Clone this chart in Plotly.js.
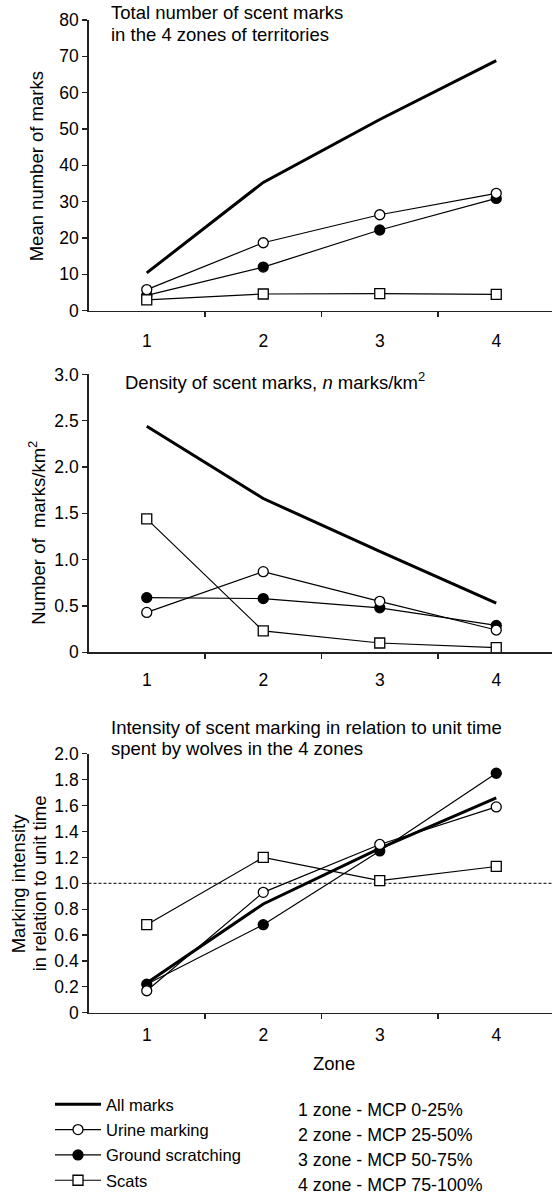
<!DOCTYPE html>
<html>
<head>
<meta charset="utf-8">
<script src="https://cdn.plot.ly/plotly-3.0.1.min.js"></script>
<style>html,body{margin:0;padding:0;background:#fff;}#chart{width:552px;height:1198px;}</style>
</head>
<body>
<div id="chart"></div>
<script>
// ---- data ----
const zones = [1, 2, 3, 4];
const seriesNames = ["All marks", "Urine marking", "Ground scratching", "Scats"];

const allTotal = [10.4, 35.3, 52.6, 68.8];
const urineTotal = [5.8, 18.7, 26.4, 32.3];
const groundTotal = [4.2, 12.0, 22.2, 30.9];
const scatsTotal = [3.0, 4.6, 4.7, 4.5];

const allDensity = [2.44, 1.66, 1.09, 0.53];
const urineDensity = [0.43, 0.87, 0.55, 0.24];
const groundDensity = [0.59, 0.58, 0.48, 0.29];
const scatsDensity = [1.44, 0.23, 0.10, 0.05];

const allIntensity = [0.23, 0.84, 1.27, 1.66];
const urineIntensity = [0.17, 0.93, 1.30, 1.59];
const groundIntensity = [0.22, 0.68, 1.25, 1.85];
const scatsIntensity = [0.68, 1.20, 1.02, 1.13];

const y1Ticks = [0, 10, 20, 30, 40, 50, 60, 70, 80];
const y2Ticks = [0, 0.5, 1.0, 1.5, 2.0, 2.5, 3.0];
const y2Labels = ["0", "0.5", "1.0", "1.5", "2.0", "2.5", "3.0"];
const y3Ticks = [0, 0.2, 0.4, 0.6, 0.8, 1.0, 1.2, 1.4, 1.6, 1.8, 2.0];
const y3Labels = ["0", "0.2", "0.4", "0.6", "0.8", "1.0", "1.2", "1.4", "1.6", "1.8", "2.0"];
const zoneBoundaries = [1.5, 2.5, 3.5];
const zoneLabels = ["1 zone - MCP 0-25%", "2 zone - MCP 25-50%", "3 zone - MCP 50-75%", "4 zone - MCP 75-100%"];
const referenceLevel = 1.0;

// ---- layout helpers ----
const W = 552, H = 1198;
const FONT = "Liberation Sans, Arial, sans-serif";
const px = v => v / W;
const py = v => 1 - v / H;

const panels = [
  [allTotal, urineTotal, groundTotal, scatsTotal],
  [allDensity, urineDensity, groundDensity, scatsDensity],
  [allIntensity, urineIntensity, groundIntensity, scatsIntensity]
];

const styles = [
  {mode: "lines", line: {color: "#000", width: 3}, rank: 1},
  {mode: "lines+markers", line: {color: "#000", width: 1.2},
   marker: {symbol: "circle", size: 10, color: "#fff", line: {color: "#000", width: 1.3}}, rank: 2},
  {mode: "lines+markers", line: {color: "#000", width: 1.2},
   marker: {symbol: "circle", size: 10, color: "#000", line: {color: "#000", width: 1.3}}, rank: 3},
  {mode: "lines+markers", line: {color: "#000", width: 1.2},
   marker: {symbol: "square", size: 10, color: "#fff", line: {color: "#000", width: 1.3}}, rank: 4}
];

const traces = [];
panels.forEach((vals, p) => {
  const ax = p === 0 ? "" : String(p + 1);
  [0, 2, 1, 3].forEach(s => {
    const st = styles[s];
    const t = {
      x: zones, y: vals[s], type: "scatter", mode: st.mode,
      line: st.line, name: seriesNames[s],
      xaxis: "x" + ax, yaxis: "y" + ax,
      showlegend: p === 0, legendgroup: seriesNames[s], legendrank: st.rank,
      hoverinfo: "skip", cliponaxis: false
    };
    if (st.marker) t.marker = st.marker;
    traces.push(t);
  });
});

const xDomain = [px(88.5), 1];
const xRange = [0.5, 0.5 + (W - 88.5) / 116.5];

function xAxis(standoff) {
  return {
    domain: xDomain, range: xRange, fixedrange: true,
    tickmode: "array", tickvals: zones, ticktext: zones.map(String),
    ticks: "", ticklabelstandoff: standoff,
    tickfont: {family: FONT, size: 17.5, color: "#000"},
    showline: true, linecolor: "#222", linewidth: 1.3,
    showgrid: false, zeroline: false,
    minor: {tickmode: "array", tickvals: zoneBoundaries, ticks: "outside", ticklen: 5, tickwidth: 1.2, tickcolor: "#222", showgrid: false}
  };
}
function yAxis(top, bottom, range, vals, text, anchor) {
  return {
    domain: [py(bottom), py(top)], range: range, fixedrange: true, anchor: anchor,
    tickmode: "array", tickvals: vals, ticktext: text,
    ticks: "outside", ticklen: 5, tickwidth: 1.2, tickcolor: "#222",
    tickfont: {family: FONT, size: 17.5, color: "#000"},
    showline: true, linecolor: "#222", linewidth: 1.3,
    showgrid: false, zeroline: false
  };
}

function ann(text, x, y, size, extra) {
  return Object.assign({
    text: text, xref: "paper", yref: "paper", x: px(x), y: py(y),
    xanchor: "left", yanchor: "middle", showarrow: false,
    font: {family: FONT, size: size, color: "#000"}
  }, extra || {});
}

const annotations = [
  ann("Total number of scent marks", 109, 13, 18.5),
  ann("in the 4 zones of territories", 109, 35, 18.5),
  ann("Density of scent marks, <i>n</i> marks/km<sup>2</sup>", 123, 383, 18.5),
  ann("Intensity of scent marking in relation to unit time", 109, 731, 18.5),
  ann("spent by wolves in the 4 zones", 109, 752, 18.5),
  ann("Mean number of marks", 36, 167, 18.5, {textangle: -90, xanchor: "center"}),
  ann("Number of\u00A0 marks/km<sup>2</sup>", 37, 535, 18.5, {textangle: -90, xanchor: "center"}),
  ann("Marking intensity", 18, 887, 18.5, {textangle: -90, xanchor: "center"}),
  ann("in relation to unit time", 39, 887, 18.5, {textangle: -90, xanchor: "center"}),
  ann("Zone", 334, 1068, 18.5, {xanchor: "center"})
];
zoneLabels.forEach((lab, i) => annotations.push(ann(lab, 296, 1115 + i * 25, 17.8)));

const layout = {
  width: W, height: H,
  margin: {l: 0, r: 0, t: 0, b: 0},
  paper_bgcolor: "#fff", plot_bgcolor: "rgba(0,0,0,0)",
  font: {family: FONT, color: "#000"},
  xaxis: Object.assign(xAxis(14), {anchor: "y"}), yaxis: yAxis(20, 312, [0, 80], y1Ticks, y1Ticks.map(String), "x"),
  xaxis2: Object.assign(xAxis(11), {anchor: "y2"}), yaxis2: yAxis(376, 655, [0, 3], y2Ticks, y2Labels, "x2"),
  xaxis3: Object.assign(xAxis(6), {anchor: "y3"}), yaxis3: yAxis(757, 1017, [0, 2], y3Ticks, y3Labels, "x3"),
  shapes: [{
    type: "line", xref: "x3 domain", yref: "y3", x0: 0, x1: 1, y0: referenceLevel, y1: referenceLevel,
    line: {color: "#000", width: 1, dash: "3px,2px"}, layer: "below"
  }],
  annotations: annotations,
  showlegend: true,
  legend: {
    x: px(50), y: py(1092), xanchor: "left", yanchor: "top",
    traceorder: "grouped", tracegroupgap: 0.9, itemwidth: 46,
    font: {family: FONT, size: 16.5, color: "#000"},
    bgcolor: "rgba(0,0,0,0)", borderwidth: 0
  }
};

Plotly.newPlot("chart", traces, layout, {staticPlot: true, displayModeBar: false});
</script>
</body>
</html>
